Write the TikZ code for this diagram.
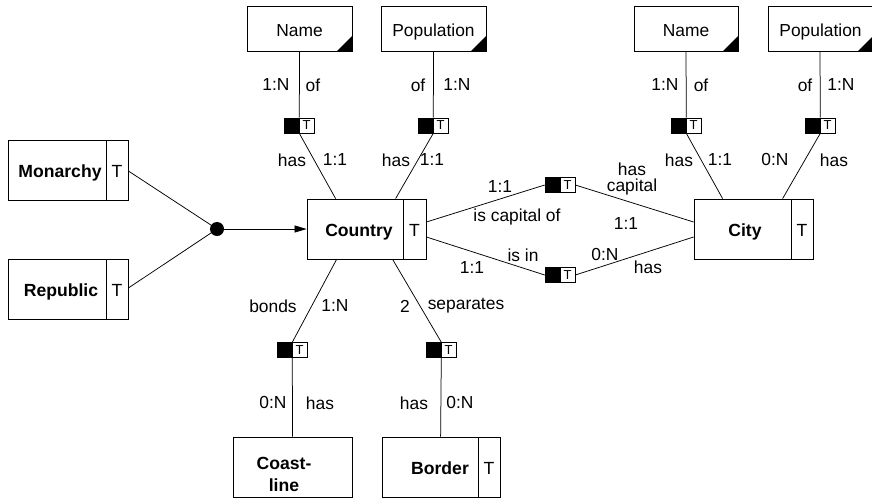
\documentclass[tikz,border=0pt]{standalone}
\usepackage{fontspec}
\setmainfont{Liberation Sans}
\usetikzlibrary{arrows.meta,calc}
\begin{document}
\begin{tikzpicture}[x=1pt,y=-1pt,
  ent/.style={draw,line width=0.8pt,minimum height=60pt,inner sep=0pt,text height=14pt,text depth=0pt,font=\fontsize{17.6}{20}\selectfont\bfseries},
  tcell/.style={draw,line width=0.8pt,minimum height=60pt,inner sep=0pt,text height=14pt,text depth=0pt,font=\fontsize{17.6}{20}\selectfont},
  attr/.style={draw,line width=0.8pt,minimum width=105pt,minimum height=45pt,inner sep=0pt,
    text height=16pt,text depth=0pt,font=\fontsize{17.4}{20}\selectfont,
    path picture={\fill (path picture bounding box.south east) -- ++(-15pt,0pt) -- ++(15pt,15pt) -- cycle;}},
  rb/.style={draw,line width=0.6pt,fill=black,minimum size=15pt,inner sep=0pt},
  rt/.style={draw,line width=0.6pt,fill=white,minimum size=15pt,inner sep=0pt,font=\fontsize{13}{13}\selectfont},
  lab/.style={inner sep=0pt,font=\fontsize{17.4}{20}\selectfont},
  conn/.style={line width=0.75pt}]
\useasboundingbox (0,0) rectangle (872,498);

% attributes
\node[attr] (name1) at (299.5,28.5) {Name};
\node[attr] (pop1) at (433.5,28.5) {Population};
\node[attr,minimum width=104pt] (name2) at (686,28.5) {Name};
\node[attr] (pop2) at (820.5,28.5) {Population};

% role connectors
\node[rb] (r1b) at (291.5,125.5) {}; \node[rt] (r1t) at (306.5,125.5) {T};
\node[rb] (r2b) at (425.5,125.5) {}; \node[rt] (r2t) at (440.5,125.5) {T};
\node[rb] (r3b) at (678.5,125.5) {}; \node[rt] (r3t) at (693.5,125.5) {T};
\node[rb] (r4b) at (812.5,125.5) {}; \node[rt] (r4t) at (827.5,125.5) {T};
\node[rb] (r5b) at (552.5,185) {}; \node[rt] (r5t) at (567.5,185) {T};
\node[rb] (r6b) at (552.5,275) {}; \node[rt] (r6t) at (567.5,275) {T};
\node[rb] (r7b) at (284.5,350) {}; \node[rt] (r7t) at (299.5,350) {T};
\node[rb] (r8b) at (433.5,350) {}; \node[rt] (r8t) at (448.5,350) {T};

% entities
\node[ent,minimum width=96pt] (country) at (355,229) {\hspace*{8pt}Country};
\node[tcell,minimum width=23pt] (countryT) at (414.5,229) {T};
\node[ent,minimum width=97pt] (city) at (742.5,229) {\hspace*{5pt}City};
\node[tcell,minimum width=22pt] (cityT) at (802,229) {T};
\node[ent,minimum width=98pt] (monarchy) at (57,170) {\hspace*{6pt}Monarchy};
\node[tcell,minimum width=22pt] (monarchyT) at (117,170) {T};
\node[ent,minimum width=98pt] (republic) at (57,289) {\hspace*{8pt}Republic};
\node[tcell,minimum width=22pt] (republicT) at (117,289) {T};
\node[ent,minimum width=119pt] (coast) at (292.5,467) {};
\node[inner sep=0pt,align=center,font=\fontsize{17.6}{22}\selectfont\bfseries] (coastlbl) at (284,474) {Coast-\\line};
\node[ent,minimum width=96pt] (border) at (430,467) {\hspace*{20pt}Border};
\node[tcell,minimum width=22pt] (borderT) at (489,467) {T};

% generalization
\node[circle,fill=black,minimum size=14pt,inner sep=0pt] (dot) at (217,229) {};
\draw[conn] ($(monarchyT.east)+(0,1)$) -- (dot.center);
\draw[conn] ($(republicT.east)+(0,-1)$) -- (dot.center);
\draw[conn,-{Triangle[length=12pt,width=7pt]}] (dot) -- (country.west);

% attribute links
\draw[conn] (name1.south) -- (r1b.north east);
\draw[conn] (r1b.south east) -- ($(country.north west)+(29,0)$);
\draw[conn] (pop1.south) -- (r2b.north east);
\draw[conn] (r2b.south east) -- ($(country.north west)+(89,0)$);
\draw[conn] (name2.south) -- (r3b.north east);
\draw[conn] (r3b.south east) -- ($(city.north west)+(29,0)$);
\draw[conn] ($(pop2.south)+(-0.5,0)$) -- (r4b.north east);
\draw[conn] (r4b.south east) -- ($(city.north west)+(89,0)$);

% relationships
\draw[conn] ($(countryT.east)+(0,-7)$) -- (r5b.west);
\draw[conn] (r5t.east) -- ($(city.west)+(0,-7)$);
\draw[conn] ($(countryT.east)+(0,8)$) -- (r6b.west);
\draw[conn] (r6t.east) -- ($(city.west)+(0,8)$);
\draw[conn] ($(country.south west)+(30,0)$) -- (r7b.north east);
\draw[conn] (r7b.south east) -- (coast.north);
\draw[conn] ($(country.south west)+(86,0)$) -- (r8b.north east);
\draw[conn] (r8b.south east) -- ($(border.north west)+(59,0)$);

% labels
\node[lab] (l1) at (276,85) {1:N};
\node[lab] (l2) at (313,85) {of};
\node[lab] (l3) at (292,160) {has};
\node[lab] (l4) at (335,160) {1:1};
\node[lab] (l5) at (418,85) {of};
\node[lab] (l6) at (457,85) {1:N};
\node[lab] (l7) at (396,160) {has};
\node[lab] (l8) at (432,160) {1:1};
\node[lab] (l9) at (665,85) {1:N};
\node[lab] (l10) at (701,85) {of};
\node[lab] (l11) at (679,160) {has};
\node[lab] (l12) at (720,160) {1:1};
\node[lab] (l13) at (805,85) {of};
\node[lab] (l14) at (841,85) {1:N};
\node[lab] (l15) at (775,160) {0:N};
\node[lab] (l16) at (834,160) {has};
\node[lab] (l17) at (500,187) {1:1};
\node[lab] (l18) at (517,217) {is capital of};
\node[lab,align=center,font=\fontsize{17.4}{16.5}\selectfont] (l19) at (632,179) {has\\capital};
\node[lab] (l20) at (626,224) {1:1};
\node[lab] (l21) at (523,255) {is in};
\node[lab] (l22) at (472,268) {1:1};
\node[lab] (l23) at (605,255) {0:N};
\node[lab] (l24) at (648,267) {has};
\node[lab] (l25) at (273,306) {bonds};
\node[lab] (l26) at (335,306) {1:N};
\node[lab] (l27) at (405,306) {2};
\node[lab] (l28) at (466,306) {separates};
\node[lab] (l29) at (273,403) {0:N};
\node[lab] (l30) at (320,403) {has};
\node[lab] (l31) at (414,403) {has};
\node[lab] (l32) at (460,403) {0:N};
\end{tikzpicture}
\end{document}
